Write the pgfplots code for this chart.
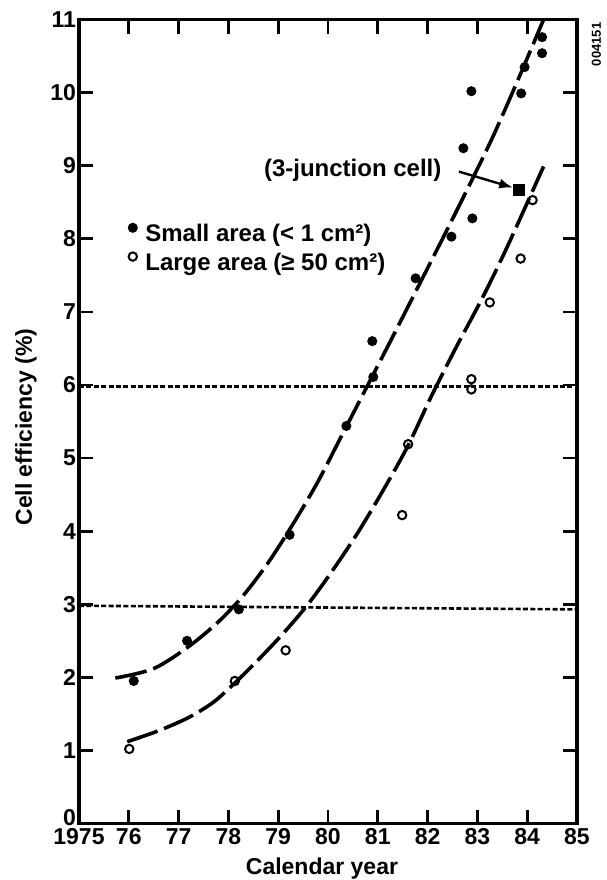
\documentclass[border=0pt]{standalone}
\usepackage{fontspec}
\setmainfont{Liberation Sans}
\usepackage{pgfplots}
\pgfplotsset{compat=1.18}
\usetikzlibrary{arrows.meta}

\begin{document}
\begin{tikzpicture}
\begin{axis}[
  name=ax,
  scale only axis,
  width=249pt, height=402pt,
  xmin=75, xmax=85, ymin=0, ymax=11,
  xtick={75,...,85},
  xticklabels={1975,76,77,78,79,80,81,82,83,84,85},
  ytick={0,...,11},
  yticklabels={\raisebox{6.5pt}{0},1,2,3,4,5,6,7,8,9,10,11},
  tick align=inside,
  major tick length=7pt,
  every tick/.style={black, line width=1.4pt},
  axis line style={line width=1.8pt},
  font=\bfseries,
  tick label style={font=\fontsize{11.5}{13}\selectfont\bfseries},
  /pgf/number format/assume math mode=true,
  xticklabel style={yshift=1pt},
  yticklabel style={xshift=2pt},
  xlabel={Calendar year},
  ylabel={Cell efficiency (\%)},
  label style={font=\fontsize{11.5}{13}\selectfont\bfseries},
  xlabel style={at={(axis description cs:0.488,-0.0566)}, anchor=center},
  ylabel style={at={(axis description cs:-0.1064,0.493)}, anchor=center},
  clip=false,
  legend cell align=left,
  legend image code/.code={\draw[#1] plot coordinates {(0pt,4pt)};},
  legend style={draw=none, fill=none, at={(axis cs:75.98,8.22)}, anchor=north west,
    font=\fontsize{12}{14}\selectfont\bfseries, inner sep=0pt, row sep=2.3pt,
    nodes={inner xsep=4pt, inner ysep=0pt, text height=9pt, text depth=3pt}},
]

% reference levels
\addplot[forget plot, line width=1.3pt, dash pattern=on 2.5pt off 1.2pt]
  coordinates {(75,5.98) (85,5.98)};
\addplot[forget plot, line width=1.3pt, dash pattern=on 2.5pt off 1.2pt]
  coordinates {(75,2.98) (85,2.93)};

% trend curves
\addplot[forget plot, smooth, line width=1.8pt, dash pattern=on 16pt off 3.5pt]
  coordinates {(75.73,1.99) (76.5,2.12) (77.2,2.42) (77.8,2.76) (78.3,3.12)
    (78.8,3.57) (79.3,4.10) (79.8,4.68) (80.3,5.34) (80.8,6.00) (81.3,6.66)
    (81.8,7.33) (82.3,8.00) (82.8,8.68) (83.3,9.38) (83.8,10.15) (84.33,11.0)};
\addplot[forget plot, smooth, line width=1.8pt, dash pattern=on 16pt off 3.5pt]
  coordinates {(75.97,1.12) (76.6,1.27) (77.2,1.45) (77.7,1.66) (78.14,1.93)
    (78.6,2.24) (79.1,2.60) (79.6,3.00) (80.1,3.47) (80.6,3.98) (81.1,4.55)
    (81.6,5.16) (82.1,5.88) (82.6,6.55) (83.1,7.19) (83.6,7.89) (84.33,8.99)};

% measured cells
\addplot[only marks, mark=*, mark size=2.3pt, black]
  coordinates {(76.10,1.95) (77.17,2.50) (78.21,2.93) (79.23,3.95) (80.37,5.44)
    (80.91,6.11) (80.89,6.60) (81.76,7.46) (82.48,8.03) (82.90,8.28) (82.72,9.24)
    (82.88,10.02) (83.88,9.99) (83.95,10.35) (84.30,10.54) (84.30,10.76)};
\addlegendentry{Small area (< 1 cm²)}
\addplot[only marks, mark=o, mark size=2.1pt, black, mark options={line width=1pt, fill=white}]
  coordinates {(76.01,1.02) (78.13,1.95) (79.15,2.37) (81.49,4.22) (81.61,5.19)
    (82.88,5.94) (82.88,6.08) (83.25,7.13) (83.87,7.73) (84.11,8.53)};
\addlegendentry{Large area (≥ 50 cm²)}
\addplot[forget plot, only marks, mark=square*, mark size=2.7pt, black]
  coordinates {(83.83,8.67)};

\node[anchor=east, font=\fontsize{12}{14}\selectfont\bfseries] at (axis cs:82.42,8.94) {(3-junction cell)};
\draw[line width=1.2pt, -{Latex[length=7pt,width=5pt]}] (axis cs:82.63,8.92) -- (axis cs:83.72,8.70);
\node[rotate=90, inner sep=0pt, font=\fontsize{6.5}{7}\selectfont\bfseries] at (axis cs:85.39,10.66) {004151};
\end{axis}
\pgfresetboundingbox
\path ([shift={(-39.5pt,-28.25pt)}]ax.south west) rectangle ([shift={(15pt,9.8pt)}]ax.north east);
\end{tikzpicture}
\end{document}
